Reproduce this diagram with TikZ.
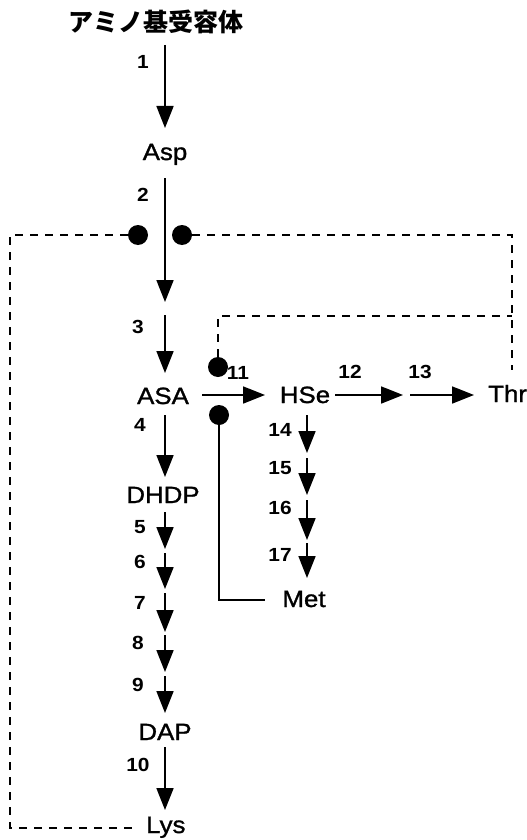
\documentclass[tikz,border=0pt]{standalone}
\usepackage{fontspec}
\setmainfont{Liberation Sans}[FakeStretch=1.1]
\newfontfamily\labfont{Liberation Sans}[FakeStretch=1.1, FakeBold=1.2]
\newfontfamily\jpfont{Noto Sans CJK JP}
\usetikzlibrary{arrows.meta}
\begin{document}
\begin{tikzpicture}[x=1pt,y=-1pt,
  lab/.style={font=\labfont\fontsize{23.5}{24}\selectfont, inner sep=0pt, anchor=base},
  num/.style={font=\bfseries\fontsize{19}{19}\selectfont, inner sep=0pt},
  arr/.style={line width=1.8pt, -{Triangle[length=22pt,width=17pt]}},
  dline/.style={line width=1.7pt, dash pattern=on 8pt off 7pt},
  sline/.style={line width=1.4pt},
  blob/.style={circle, fill=black, inner sep=0pt, minimum size=20pt}]
\useasboundingbox (0,0) rectangle (527,840);
% texts
\node[font=\jpfont\bfseries\fontsize{25}{25}\selectfont, inner sep=0pt] (title) at (156,22) {アミノ基受容体};
\node[lab] (asp) at (165,160) {Asp};
\node[lab] (asa) at (163,404) {ASA};
\node[lab] (hse) at (305,403) {HSe};
\node[lab, anchor=base west] (thr) at (488,402) {Thr};
\node[lab] (dhdp) at (163,503) {DHDP};
\node[lab] (met) at (304,607) {Met};
\node[lab] (dap) at (165,740) {DAP};
\node[lab, anchor=base west] (lys) at (146,833) {Lys};
% numbers
\node[num] (n1) at (143,62) {1};
\node[num] (n2) at (143,195) {2};
\node[num] (n3) at (138,327) {3};
\node[num] (n4) at (140,425) {4};
\node[num] (n5) at (140,527) {5};
\node[num] (n6) at (140,562) {6};
\node[num] (n7) at (140,603) {7};
\node[num] (n8) at (138,643) {8};
\node[num] (n9) at (138,685) {9};
\node[num] (n10) at (138,765) {10};
\node[num] (n11) at (238,373) {11};
\node[num] (n12) at (350,372) {12};
\node[num] (n13) at (420,372) {13};
\node[num] (n14) at (280,430) {14};
\node[num] (n15) at (280,468) {15};
\node[num] (n16) at (280,508) {16};
\node[num] (n17) at (280,555) {17};
% blobs
\node[blob] (bL) at (138,235) {};
\node[blob] (bR) at (182,235) {};
\node[blob] (bU) at (218,367) {};
\node[blob] (bD) at (219,415) {};
% main column coordinates
\coordinate (a1s) at (165,45);  \coordinate (a1e) at (165,128);
\coordinate (a2s) at (165,178); \coordinate (a2e) at (165,302);
\coordinate (a3s) at (165,315); \coordinate (a3e) at (165,373);
\coordinate (a4s) at (165,415); \coordinate (a4e) at (165,477);
\coordinate (a5s) at (165,512); \coordinate (a5e) at (165,549);
\coordinate (a6s) at (165,553); \coordinate (a6e) at (165,589);
\coordinate (a7s) at (165,593); \coordinate (a7e) at (165,632);
\coordinate (a8s) at (165,635); \coordinate (a8e) at (165,672);
\coordinate (a9s) at (165,676); \coordinate (a9e) at (165,713);
\coordinate (a10s) at (165,747); \coordinate (a10e) at (165,810);
\draw[arr] (a1s) -- (a1e);
\draw[arr] (a2s) -- (a2e);
\draw[arr] (a3s) -- (a3e);
\draw[arr] (a4s) -- (a4e);
\draw[arr] (a5s) -- (a5e);
\draw[arr] (a6s) -- (a6e);
\draw[arr] (a7s) -- (a7e);
\draw[arr] (a8s) -- (a8e);
\draw[arr] (a9s) -- (a9e);
\draw[arr] (a10s) -- (a10e);
% HSe column
\coordinate (a14s) at (307,415); \coordinate (a14e) at (307,453);
\coordinate (a15s) at (307,458); \coordinate (a15e) at (307,495);
\coordinate (a16s) at (307,500); \coordinate (a16e) at (307,540);
\coordinate (a17s) at (307,543); \coordinate (a17e) at (307,578);
\draw[arr] (a14s) -- (a14e);
\draw[arr] (a15s) -- (a15e);
\draw[arr] (a16s) -- (a16e);
\draw[arr] (a17s) -- (a17e);
% horizontal row
\coordinate (a11s) at (202,395); \coordinate (a11e) at (265,395);
\coordinate (a12s) at (335,395); \coordinate (a12e) at (403,395);
\coordinate (a13s) at (410,395); \coordinate (a13e) at (474,395);
\draw[arr] (a11s) -- (a11e);
\draw[arr] (a12s) -- (a12e);
\draw[arr] (a13s) -- (a13e);
% feedback lines
\coordinate (lysend) at (138,828);
\coordinate (thrtop) at (512,370);
\draw[dline] (bL.west) -- (10,235) -- (10,828) -- (lysend);
\draw[dline] (bR.east) -- (512,235) -- (thrtop);
\draw[dline] (bU.north) -- (218,316) -- (512,316);
\coordinate (metend) at (265,600);
\draw[sline] (bD.south) -- (219,600) -- (metend);
\end{tikzpicture}
\end{document}
